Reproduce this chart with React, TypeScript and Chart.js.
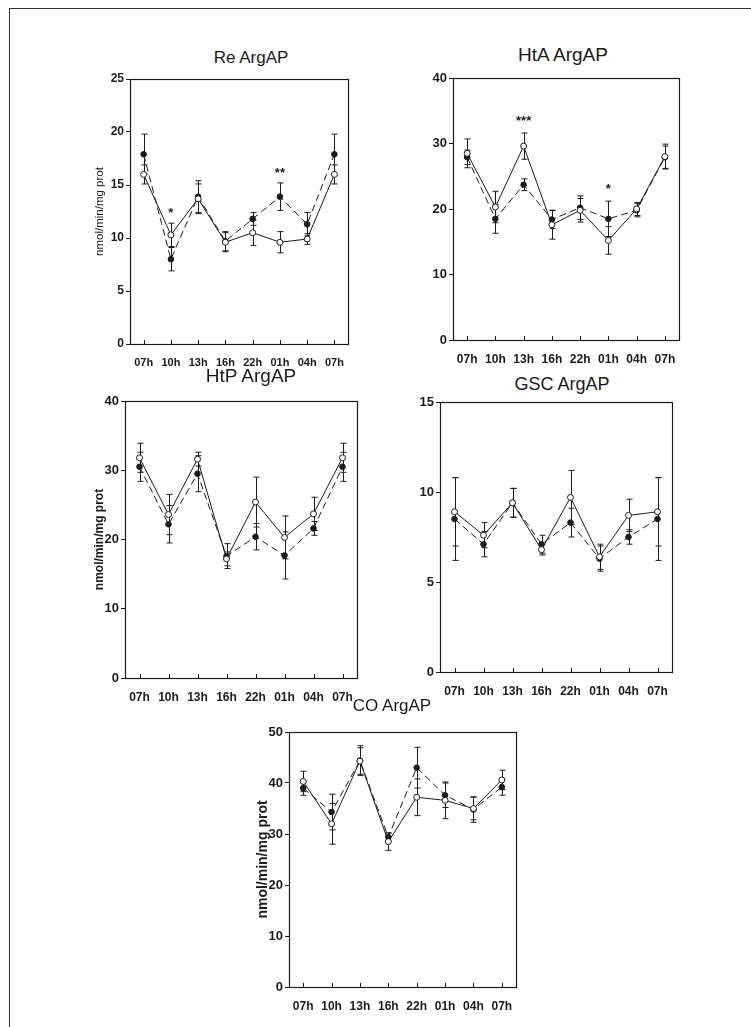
import React, { useEffect, useRef } from "react";
import { Chart, registerables } from "chart.js";

Chart.register(...registerables);

const hours = ["07h", "10h", "13h", "16h", "22h", "01h", "04h", "07h"];

// Re ArgAP
const reOpen = [16.0, 10.3, 13.7, 9.6, 10.5, 9.6, 9.9, 16.0];
const reOpenErr = [0.9, 1.1, 1.4, 0.9, 1.2, 1.0, 0.5, 0.9];
const reFilled = [17.9, 8.0, 13.9, 9.7, 11.8, 13.9, 11.3, 17.9];
const reFilledErr = [1.9, 1.1, 1.5, 0.9, 0.6, 1.3, 1.1, 1.9];
const reStars = ["", "*", "", "", "", "**", "", ""];
const reStarAt = [0, 12.6, 0, 0, 0, 16.4, 0, 0];

// HtA ArgAP
const htaOpen = [28.5, 20.3, 29.6, 17.6, 19.8, 15.2, 20.0, 28.0];
const htaOpenErr = [2.2, 2.4, 2.0, 2.2, 1.8, 2.1, 1.0, 1.9];
const htaFilled = [27.9, 18.5, 23.7, 18.4, 20.2, 18.5, 19.8, 27.9];
const htaFilledErr = [1.1, 2.2, 0.9, 1.4, 1.8, 2.7, 1.0, 1.7];
const htaStars = ["", "", "***", "", "", "*", "", ""];
const htaStarAt = [0, 0, 33.8, 0, 0, 23.4, 0, 0];

// HtP ArgAP
const htpOpen = [31.8, 23.6, 31.6, 17.2, 25.4, 20.3, 23.7, 31.8];
const htpOpenErr = [2.1, 2.9, 1.0, 1.0, 3.6, 3.1, 2.4, 2.1];
const htpFilled = [30.5, 22.2, 29.5, 17.6, 20.4, 17.7, 21.6, 30.5];
const htpFilledErr = [2.1, 2.7, 2.6, 1.8, 1.9, 3.4, 1.0, 2.1];

// GSC ArgAP
const gscOpen = [8.9, 7.6, 9.4, 6.8, 9.7, 6.4, 8.7, 8.9];
const gscOpenErr = [1.9, 0.7, 0.8, 0.3, 1.5, 0.7, 0.9, 1.9];
const gscFilled = [8.5, 7.1, 9.4, 7.1, 8.3, 6.3, 7.5, 8.5];
const gscFilledErr = [2.3, 0.7, 0.8, 0.5, 0.8, 0.7, 0.4, 2.3];

// CO ArgAP
const coOpen = [40.3, 32.0, 44.3, 28.5, 37.2, 36.6, 35.0, 40.6];
const coOpenErr = [2.0, 4.0, 2.6, 1.7, 3.6, 3.6, 2.2, 1.9];
const coFilled = [39.0, 34.3, 44.4, 29.4, 43.0, 37.6, 34.8, 39.2];
const coFilledErr = [1.4, 3.5, 2.9, 0.8, 4.0, 2.4, 2.5, 1.6];

const yLabel = "nmol/min/mg prot";
const FONT = "'Liberation Sans', Arial, Helvetica, sans-serif";
const INK = "#1b1b1b";

type PanelCfg = {
  title: string;
  titleX: number;
  titleY: number;
  titleSize: number;
  box: { l: number; t: number; r: number; b: number };
  yW: number;
  yMax: number;
  yStep: number;
  yTitle: string;
  yTitleSize: number;
  yTitleBold: boolean;
  tickSize: number;
  open: number[];
  openErr: number[];
  filled: number[];
  filledErr: number[];
  stars?: string[];
  starAt?: number[];
};

const panels: PanelCfg[] = [
  {
    title: "Re ArgAP", titleX: 251, titleY: 57, titleSize: 17,
    box: { l: 130, t: 79, r: 348, b: 344 }, yW: 37, yMax: 25, yStep: 5,
    yTitle: yLabel, yTitleSize: 11.5, yTitleBold: false, tickSize: 11,
    open: reOpen, openErr: reOpenErr, filled: reFilled, filledErr: reFilledErr,
    stars: reStars, starAt: reStarAt,
  },
  {
    title: "HtA ArgAP", titleX: 563, titleY: 54, titleSize: 19,
    box: { l: 453, t: 78, r: 679, b: 340 }, yW: 34, yMax: 40, yStep: 10,
    yTitle: "", yTitleSize: 12, yTitleBold: false, tickSize: 12,
    open: htaOpen, openErr: htaOpenErr, filled: htaFilled, filledErr: htaFilledErr,
    stars: htaStars, starAt: htaStarAt,
  },
  {
    title: "HtP ArgAP", titleX: 251, titleY: 375, titleSize: 19,
    box: { l: 125, t: 401, r: 357, b: 678 }, yW: 33, yMax: 40, yStep: 10,
    yTitle: yLabel, yTitleSize: 12, yTitleBold: true, tickSize: 12,
    open: htpOpen, openErr: htpOpenErr, filled: htpFilled, filledErr: htpFilledErr,
  },
  {
    title: "GSC ArgAP", titleX: 562, titleY: 384, titleSize: 18,
    box: { l: 440, t: 402, r: 672, b: 672 }, yW: 34, yMax: 15, yStep: 5,
    yTitle: "", yTitleSize: 12, yTitleBold: false, tickSize: 12,
    open: gscOpen, openErr: gscOpenErr, filled: gscFilled, filledErr: gscFilledErr,
  },
  {
    title: "CO ArgAP", titleX: 392, titleY: 705, titleSize: 17,
    box: { l: 289, t: 732, r: 516, b: 987 }, yW: 34, yMax: 50, yStep: 10,
    yTitle: yLabel, yTitleSize: 14, yTitleBold: true, tickSize: 12,
    open: coOpen, openErr: coOpenErr, filled: coFilled, filledErr: coFilledErr,
  },
];

const PAD_T = 10;
const PAD_R = 10;
const X_H = 24;

const decorPlugin = {
  id: "panelDecor",
  beforeDatasetsDraw(chart: any, _args: any, opts: any) {
    const { ctx, scales } = chart;
    const x = scales.x;
    const y = scales.y;
    ctx.save();
    ctx.strokeStyle = INK;
    ctx.lineWidth = 1;
    (opts.errors || []).forEach((errs: number[], di: number) => {
      const vals = chart.data.datasets[di].data as number[];
      errs.forEach((e, i) => {
        const px = Math.round(x.getPixelForValue(i)) + 0.5;
        const y1 = y.getPixelForValue(vals[i] + e);
        const y2 = y.getPixelForValue(vals[i] - e);
        ctx.beginPath();
        ctx.moveTo(px, y1);
        ctx.lineTo(px, y2);
        ctx.moveTo(px - 3, y1);
        ctx.lineTo(px + 3, y1);
        ctx.moveTo(px - 3, y2);
        ctx.lineTo(px + 3, y2);
        ctx.stroke();
      });
    });
    ctx.restore();
  },
  afterDraw(chart: any, _args: any, opts: any) {
    const { ctx, chartArea, scales } = chart;
    const x = scales.x;
    const y = scales.y;
    const { left, top, right, bottom } = chartArea;
    ctx.save();
    ctx.strokeStyle = INK;
    ctx.lineWidth = 1.2;
    ctx.strokeRect(Math.round(left) + 0.5, Math.round(top) + 0.5, Math.round(right - left), Math.round(bottom - top));
    // inward x ticks
    ctx.lineWidth = 1;
    for (let i = 0; i < chart.data.labels.length; i++) {
      const px = Math.round(x.getPixelForValue(i)) + 0.5;
      ctx.beginPath();
      ctx.moveTo(px, bottom);
      ctx.lineTo(px, bottom - 4);
      ctx.stroke();
    }
    // significance stars
    const stars: string[] = opts.stars || [];
    const at: number[] = opts.starAt || [];
    ctx.fillStyle = INK;
    ctx.font = `bold 13px ${FONT}`;
    ctx.textAlign = "center";
    ctx.textBaseline = "middle";
    stars.forEach((s, i) => {
      if (!s) return;
      ctx.fillText(s, x.getPixelForValue(i), y.getPixelForValue(at[i]) + 3);
    });
    ctx.restore();
  },
};

function Panel({ cfg }: { cfg: PanelCfg }) {
  const ref = useRef<HTMLCanvasElement | null>(null);
  const boxW = cfg.box.r - cfg.box.l;
  const boxH = cfg.box.b - cfg.box.t;
  const W = cfg.yW + boxW + PAD_R;
  const H = PAD_T + boxH + X_H;

  useEffect(() => {
    if (!ref.current) return;
    const chart = new Chart(ref.current, {
      type: "line",
      data: {
        labels: hours,
        datasets: [
          {
            data: cfg.open,
            borderColor: INK,
            borderWidth: 1,
            pointStyle: "circle",
            pointRadius: 3,
            pointBackgroundColor: "#ffffff",
            pointBorderColor: INK,
            pointBorderWidth: 1,
            tension: 0,
          },
          {
            data: cfg.filled,
            borderColor: INK,
            borderWidth: 1,
            borderDash: [7, 4],
            pointStyle: "circle",
            pointRadius: 2.8,
            pointBackgroundColor: INK,
            pointBorderColor: INK,
            pointBorderWidth: 1,
            tension: 0,
          },
        ],
      },
      options: {
        animation: false,
        responsive: false,
        maintainAspectRatio: false,
        layout: { padding: { top: PAD_T, right: PAD_R, left: 0, bottom: 0 } },
        plugins: {
          legend: { display: false },
          tooltip: { enabled: false },
          title: { display: false },
          panelDecor: {
            errors: [cfg.openErr, cfg.filledErr],
            stars: cfg.stars || [],
            starAt: cfg.starAt || [],
          },
        } as any,
        scales: {
          x: {
            type: "category",
            offset: true,
            grid: { display: false },
            border: { display: false },
            ticks: {
              color: INK,
              font: { family: FONT, size: cfg.tickSize, weight: "bold" },
              padding: 4,
              maxRotation: 0,
              autoSkip: false,
            },
            afterFit: (s: any) => {
              s.height = X_H;
            },
          },
          y: {
            min: 0,
            max: cfg.yMax,
            ticks: {
              stepSize: cfg.yStep,
              color: INK,
              font: { family: FONT, size: cfg.tickSize + 1, weight: "bold" },
              padding: 2,
            },
            grid: { drawOnChartArea: false, drawTicks: true, tickLength: 4, color: INK },
            border: { display: false },
            title: {
              display: !!cfg.yTitle,
              text: cfg.yTitle,
              color: INK,
              padding: 0,
              font: { family: FONT, size: cfg.yTitleSize, weight: cfg.yTitleBold ? "bold" : "normal" },
            },
            afterFit: (s: any) => {
              s.width = cfg.yW;
            },
          },
        },
      },
      plugins: [decorPlugin],
    } as any);
    return () => chart.destroy();
  }, [cfg]);

  return (
    <>
      <div
        style={{
          position: "absolute",
          left: cfg.titleX,
          top: cfg.titleY,
          transform: "translate(-50%, -50%)",
          fontFamily: FONT,
          fontSize: cfg.titleSize,
          color: INK,
          whiteSpace: "nowrap",
          lineHeight: 1,
        }}
      >
        {cfg.title}
      </div>
      <canvas
        ref={ref}
        width={W}
        height={H}
        style={{
          position: "absolute",
          left: cfg.box.l - cfg.yW,
          top: cfg.box.t - PAD_T,
          width: W,
          height: H,
        }}
      />
    </>
  );
}

export default function App() {
  return (
    <div
      style={{
        position: "absolute",
        left: 0,
        top: 0,
        width: 751,
        height: 1027,
        background: "#ffffff",
        overflow: "hidden",
      }}
    >
      <div
        style={{
          position: "absolute",
          left: 9,
          top: 8,
          width: 760,
          height: 1040,
          borderLeft: "1.5px solid #333",
          borderTop: "1.5px solid #333",
        }}
      />
      {panels.map((p) => (
        <Panel key={p.title} cfg={p} />
      ))}
    </div>
  );
}
